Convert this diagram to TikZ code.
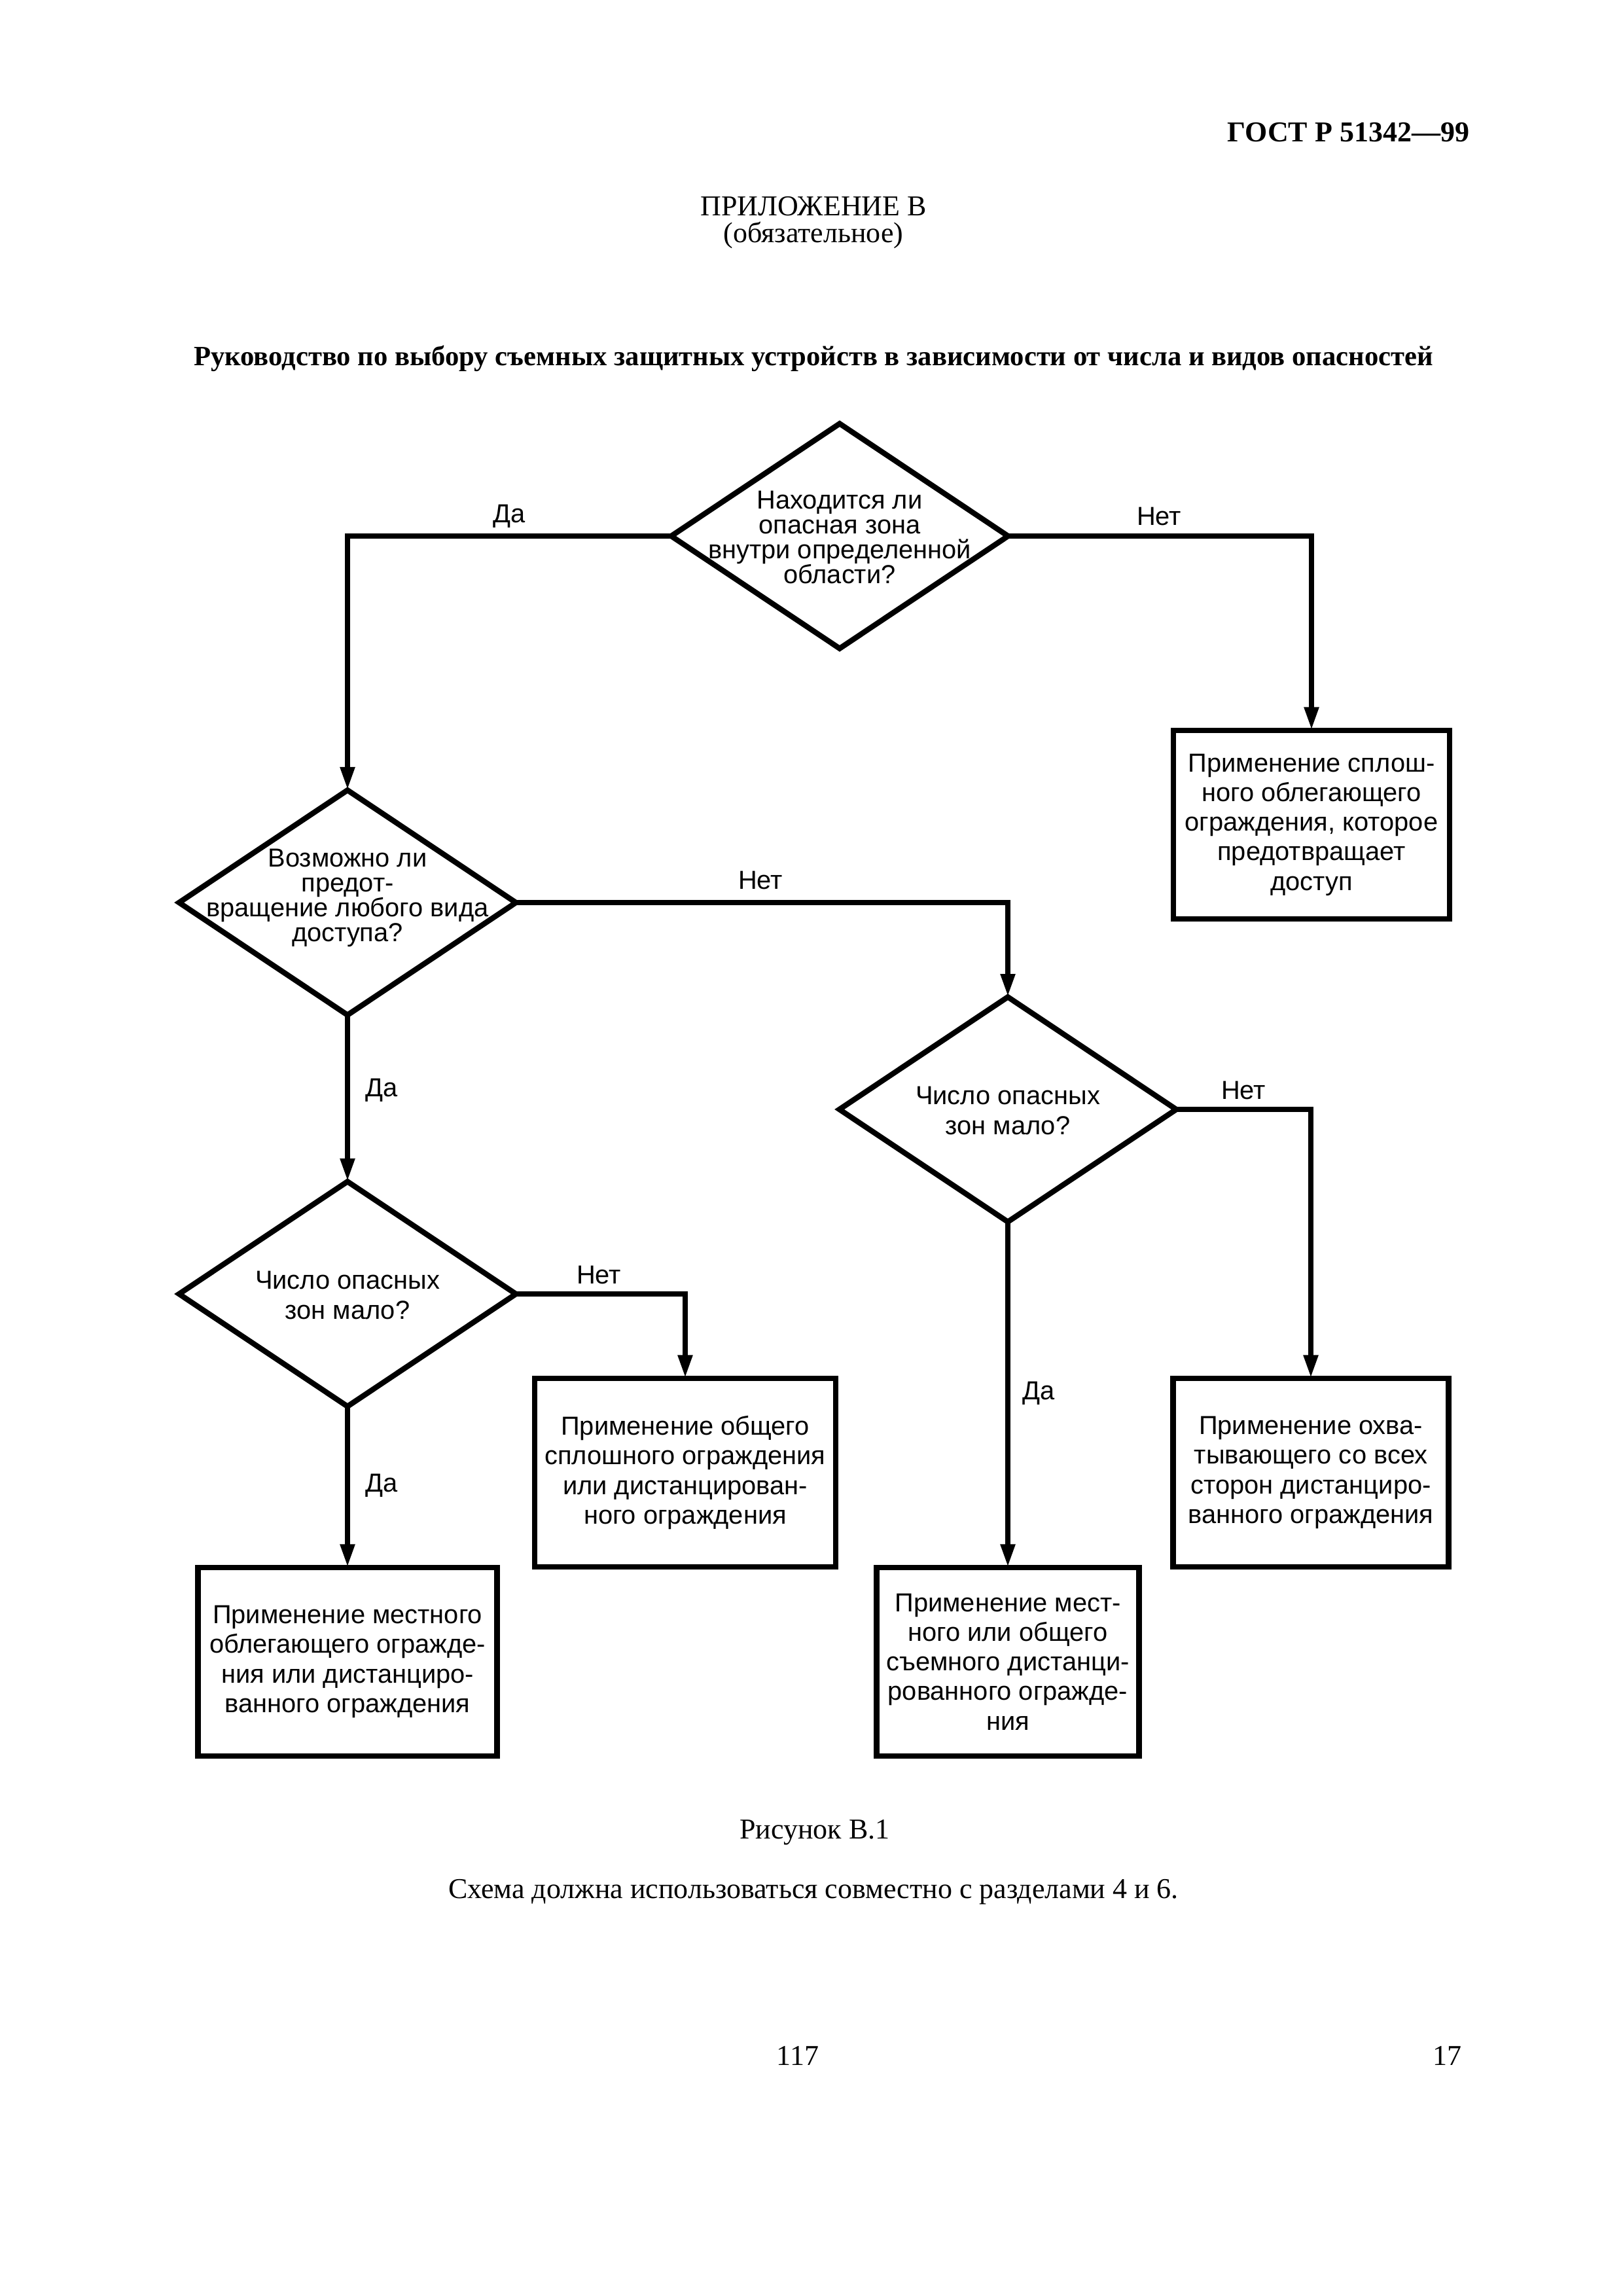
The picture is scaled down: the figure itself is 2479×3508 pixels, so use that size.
\documentclass[tikz,border=0pt]{standalone}
\usepackage{fontspec}
\setmainfont{Liberation Serif}
\newfontfamily\diagfont{Liberation Sans}
\usetikzlibrary{shapes.geometric,arrows.meta}

\begin{document}
\begin{tikzpicture}[x=0.08471mm,y=-0.08471mm,
  every node/.style={inner sep=0pt,outer sep=0pt},
  decision/.style={diamond,draw,line width=2pt,minimum width=43.6mm,minimum height=29.1mm},
  qtext/.style={align=center,font=\diagfont\fontsize{9.6}{10.9}\selectfont},
  tqtext/.style={align=center,font=\diagfont\fontsize{9.6}{9.2}\selectfont},
  action/.style={rectangle,draw,line width=2pt,align=center,minimum height=24.45mm,
    font=\diagfont\fontsize{9.6}{10.9}\selectfont},
  arr/.style={line width=2pt,-{Triangle[length=8.5pt,width=5pt]}},
  lbl/.style={font=\diagfont\fontsize{9.6}{10.9}\selectfont},
  doc/.style={font=\fontsize{10.6}{12}\selectfont}]
\useasboundingbox (0,0) rectangle (2479,3508);

\node[doc,anchor=base east] (gost) at (2245,216) {\bfseries ГОСТ Р 51342—99};
\node[doc,anchor=base] (app) at (1243,329) {ПРИЛОЖЕНИЕ В};
\node[doc,anchor=base] (obl) at (1243,370) {(обязательное)};
\node[anchor=base,font=\fontsize{10.28}{12}\selectfont\bfseries] (title) at (1243,558) {Руководство по выбору съемных защитных устройств в зависимости от числа и видов опасностей};

\node[decision] (q1) at (1283,819) {};
\node[tqtext] (q1t) at (1283,821) {Находится ли\\опасная зона\\внутри определенной\\области?};
\node[decision] (q2) at (531,1379) {};
\node[tqtext] (q2t) at (531,1372) {Возможно ли\\предот-\\вращение любого вида\\доступа?};
\node[decision] (q3) at (1540,1695) {};
\node[qtext] (q3t) at (1540,1697) {Число опасных\\зон мало?};
\node[decision] (q4) at (531,1977) {};
\node[qtext] (q4t) at (531,1979) {Число опасных\\зон мало?};

\node[action,minimum width=35.75mm] (b1) at (2004,1260) {Применение сплош-\\ного облегающего\\ограждения, которое\\предотвращает\\доступ};
\node[action,minimum width=38.97mm] (b2) at (1047,2250) {Применение общего\\сплошного ограждения\\или дистанцирован-\\ного ограждения};
\node[action,minimum width=38.71mm] (b3) at (531,2539) {Применение местного\\облегающего огражде-\\ния или дистанциро-\\ванного ограждения};
\node[action,minimum width=35.66mm] (b4) at (2003,2250) {Применение охва-\\тывающего со всех\\сторон дистанциро-\\ванного ограждения};
\node[action,minimum width=33.97mm] (b5) at (1540,2539) {Применение мест-\\ного или общего\\съемного дистанци-\\рованного огражде-\\ния};

\draw[arr] (q1.west) -| (q2.north);
\draw[arr] (q1.east) -| (b1.north);
\draw[arr] (q2.east) -| (q3.north);
\draw[arr] (q2.south) -- (q4.north);
\draw[arr] (q3.east) -| (b4.north);
\draw[arr] (q3.south) -- (b5.north);
\draw[arr] (q4.east) -| (b2.north);
\draw[arr] (q4.south) -- (b3.north);

\node[lbl] (l1) at (778,789) {Да};
\node[lbl] (l2) at (1771,789) {Нет};
\node[lbl] (l3) at (1162,1345) {Нет};
\node[lbl] (l4) at (583,1666) {Да};
\node[lbl] (l5) at (1900,1666) {Нет};
\node[lbl] (l6) at (1587,2129) {Да};
\node[lbl] (l7) at (915,1948) {Нет};
\node[lbl] (l8) at (583,2270) {Да};

\node[doc,anchor=base] (fig) at (1245,2809) {Рисунок В.1};
\node[doc,anchor=base] (note) at (1243,2900) {Схема должна использоваться совместно с разделами 4 и 6.};
\node[doc,anchor=base] (p1) at (1219,3155) {117};
\node[doc,anchor=base east] (p2) at (2233,3155) {17};
\end{tikzpicture}
\end{document}
